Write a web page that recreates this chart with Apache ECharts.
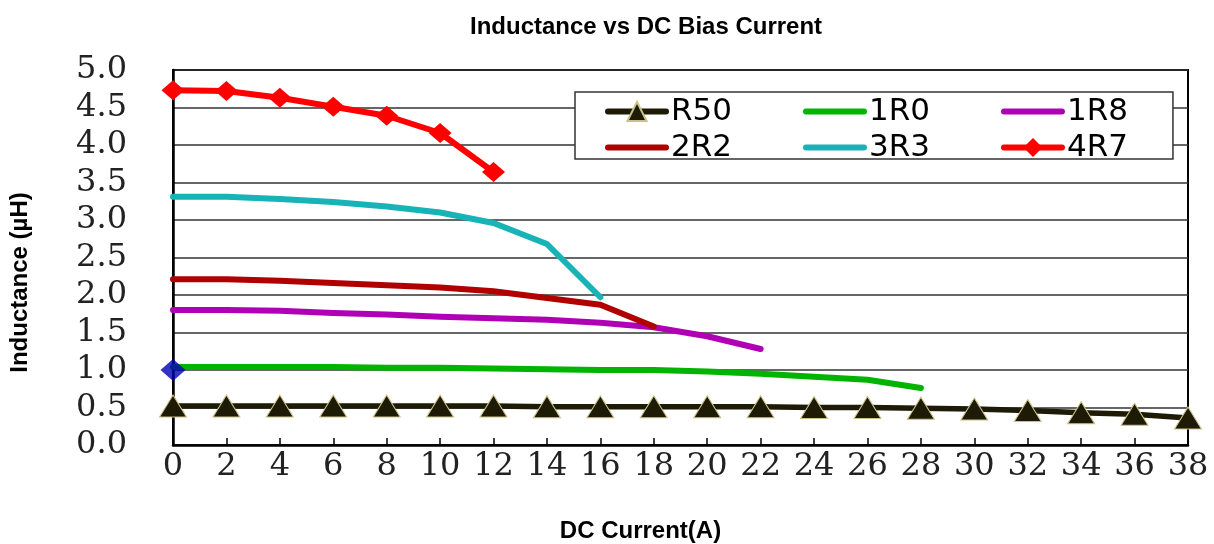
<!DOCTYPE html>
<html>
<head>
<meta charset="utf-8">
<script src="https://cdn.jsdelivr.net/npm/echarts@6/dist/echarts.min.js"></script>
<style>html,body{margin:0;padding:0;background:#fff;}#c{width:1214px;height:544px;}</style>
</head>
<body>
<div id="c"></div>
<script>
// ---- data ----
const xCurrent = [0, 2, 4, 6, 8, 10, 12, 14, 16, 18, 20, 22, 24, 26, 28, 30, 32, 34, 36, 38];
const seriesNames = ['R50', '1R0', '1R8', '2R2', '3R3', '4R7'];
const valsR50 = [0.52, 0.52, 0.52, 0.52, 0.52, 0.52, 0.52, 0.51, 0.51, 0.51, 0.51, 0.51, 0.50, 0.50, 0.49, 0.48, 0.46, 0.43, 0.41, 0.36];
const vals1R0 = [1.04, 1.04, 1.04, 1.04, 1.03, 1.03, 1.02, 1.01, 1.00, 1.00, 0.98, 0.95, 0.91, 0.87, 0.76];
const vals1R8 = [1.80, 1.80, 1.79, 1.76, 1.74, 1.71, 1.69, 1.67, 1.63, 1.57, 1.45, 1.28];
const vals2R2 = [2.21, 2.21, 2.19, 2.16, 2.13, 2.10, 2.05, 1.96, 1.87, 1.58];
const vals3R3 = [3.31, 3.31, 3.28, 3.24, 3.18, 3.10, 2.96, 2.68, 1.97];
const vals4R7 = [4.73, 4.72, 4.63, 4.51, 4.39, 4.16, 3.64];
const markerX = [0];
const markerY = [1.0];
const yTicks = ['0.0', '0.5', '1.0', '1.5', '2.0', '2.5', '3.0', '3.5', '4.0', '4.5', '5.0'];

function pairs(vals) { return vals.map((v, i) => [xCurrent[i], v]); }

const colors = { 'R50': '#1d1b06', '1R0': '#00b400', '1R8': '#b000b6', '2R2': '#b00000', '3R3': '#17b3b6', '4R7': '#ff0000' };
const valueMap = { 'R50': valsR50, '1R0': vals1R0, '1R8': vals1R8, '2R2': vals2R2, '3R3': vals3R3, '4R7': vals4R7 };

const series = seriesNames.map(name => {
  const s = {
    name: name,
    type: 'line',
    data: pairs(valueMap[name]),
    symbol: 'none',
    lineStyle: { color: colors[name], width: 6, cap: 'round', join: 'round' },
    itemStyle: { color: colors[name] },
    emphasis: { disabled: true },
    animation: false
  };
  if (name === 'R50') {
    s.symbol = 'triangle';
    s.symbolSize = [27, 22];
    s.lineStyle.width = 5.5;
    s.itemStyle = { color: colors[name], borderColor: '#cbc28a', borderWidth: 1 };
  }
  if (name === '4R7') {
    s.symbol = 'diamond';
    s.symbolSize = [23, 20];
  }
  return s;
});
series.push({
  name: 'marker',
  type: 'scatter',
  data: markerX.map((x, i) => [x, markerY[i]]),
  symbol: 'diamond',
  symbolSize: [25, 22],
  itemStyle: { color: '#0000b4' },
  z: 10,
  animation: false
});

function legendItems(names) {
  return names.map(n => (n === 'R50' || n === '4R7') ? { name: n } : { name: n, itemStyle: { opacity: 0 } });
}

const legendCommon = {
  orient: 'horizontal',
  itemWidth: 58,
  itemHeight: 24,
  itemGap: 71,
  selectedMode: false,
  lineStyle: { width: 6, cap: 'round' },
  textStyle: { fontFamily: 'DejaVu Sans', fontSize: 31, color: '#000' }
};

const chart = echarts.init(document.getElementById('c'), null, { renderer: 'canvas' });
chart.setOption({
  animation: false,
  backgroundColor: '#fff',
  title: {
    text: 'Inductance vs DC Bias Current',
    left: 465,
    top: 10,
    textStyle: { fontFamily: 'Liberation Sans', fontWeight: 'bold', fontSize: 24, color: '#000' }
  },
  legend: [
    Object.assign({}, legendCommon, {
      data: legendItems(seriesNames.slice(0, 3)),
      left: 575, top: 92,
      padding: [4, 45, 32, 30],
      backgroundColor: '#fff',
      borderColor: '#333',
      borderWidth: 1.5,
      z: 4
    }),
    Object.assign({}, legendCommon, {
      data: legendItems(seriesNames.slice(3, 6)),
      left: 605, top: 132,
      padding: 0,
      z: 5
    })
  ],
  grid: {
    left: 173, right: 26, top: 70, bottom: 99,
    outerBoundsMode: 'none',
    containLabel: false,
    show: true, borderColor: '#000', borderWidth: 2, backgroundColor: 'transparent'
  },
  xAxis: {
    type: 'value', min: 0, max: 38, interval: 2,
    name: 'DC Current(A)', nameLocation: 'middle', nameGap: 74,
    nameTextStyle: { fontFamily: 'Liberation Sans', fontWeight: 'bold', fontSize: 24, color: '#000', padding: [0, 80, 0, 0] },
    axisLine: { show: true, lineStyle: { color: '#000', width: 2.5 } },
    axisTick: { show: true, inside: true, length: 7, lineStyle: { color: '#000', width: 1.5 } },
    axisLabel: { fontFamily: 'DejaVu Serif', fontSize: 32, color: '#222', margin: 6 },
    splitLine: { show: false }
  },
  yAxis: {
    type: 'value', min: 0, max: 5, interval: 0.5,
    name: 'Inductance (µH)', nameLocation: 'middle', nameGap: 141,
    nameTextStyle: { fontFamily: 'Liberation Sans', fontWeight: 'bold', fontSize: 24, color: '#000', padding: [0, 50, 0, 0] },
    axisLine: { show: true, lineStyle: { color: '#000', width: 2.5 } },
    axisTick: { show: false },
    axisLabel: { fontFamily: 'DejaVu Serif', fontSize: 32, color: '#222', margin: 46,
      formatter: function (v) { return yTicks[Math.round(v / 0.5)]; } },
    splitLine: { show: true, lineStyle: { color: '#333', width: 1.5 } }
  },
  series: series
});
</script>
</body>
</html>
